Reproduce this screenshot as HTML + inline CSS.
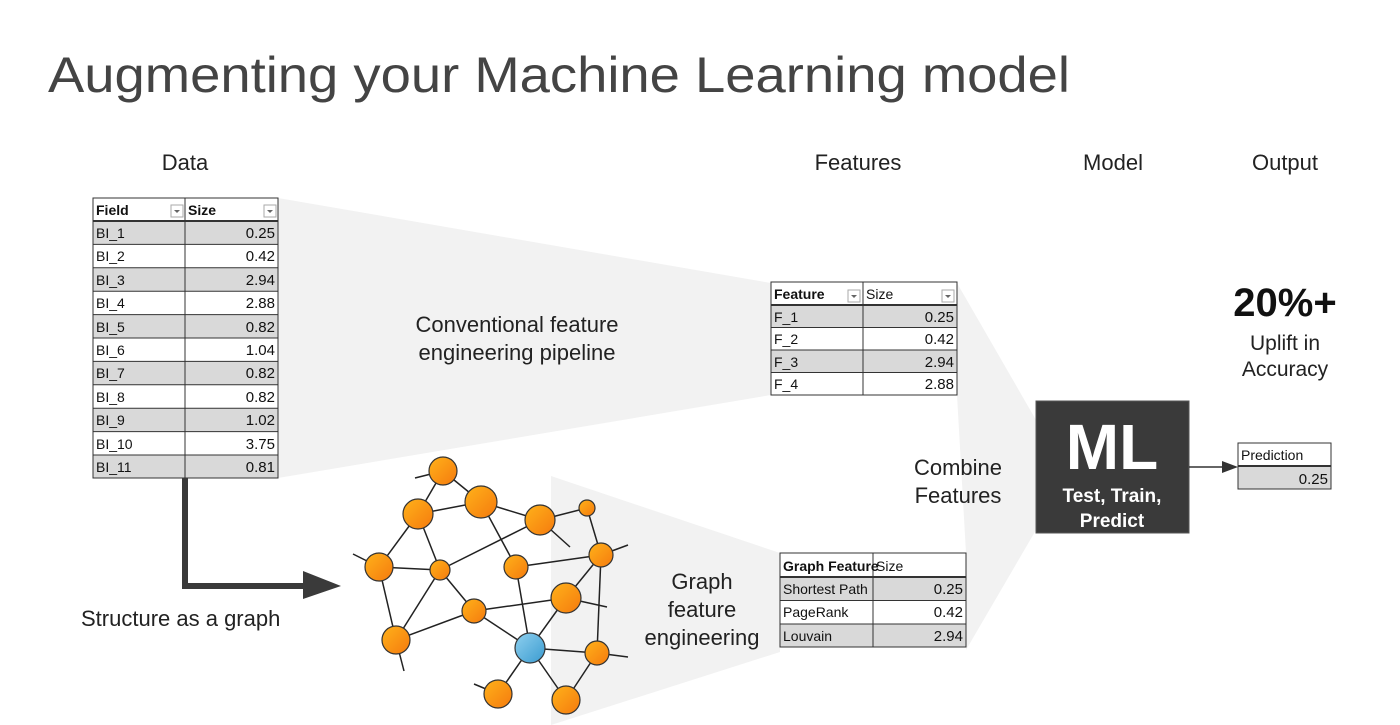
<!DOCTYPE html>
<html><head><meta charset="utf-8"><style>
html,body{margin:0;padding:0;background:#fff;}
svg{display:block;font-family:"Liberation Sans",sans-serif;}
.t{font-family:"Liberation Sans",sans-serif;fill:#222;}
.c{font-size:14px;fill:#111;}
.cb{font-size:14px;fill:#111;font-weight:bold;}
</style></head><body>
<svg width="1400" height="725" viewBox="0 0 1400 725" xmlns="http://www.w3.org/2000/svg">
<rect width="1400" height="725" fill="#fff"/>
<!-- funnels -->
<polygon points="278,198 771,283 771,395 278,478" fill="#f2f2f2"/>
<polygon points="551,476 780,553 780,652 551,725" fill="#f2f2f2"/>
<polygon points="930,283 957,283 1036,420 1036,530 966,650 966,553 957,395" fill="#f2f2f2"/>

<text x="48" y="92" font-size="50" fill="#444" textLength="1022" lengthAdjust="spacingAndGlyphs">Augmenting your Machine Learning model</text>

<g font-size="22" fill="#222" text-anchor="middle">
<text x="185" y="170">Data</text>
<text x="858" y="170">Features</text>
<text x="1113" y="170">Model</text>
<text x="1285" y="170">Output</text>
<text x="517" y="332">Conventional feature</text>
<text x="517" y="360">engineering pipeline</text>
<text x="702" y="589">Graph</text>
<text x="702" y="617">feature</text>
<text x="702" y="645">engineering</text>
<text x="958" y="475">Combine</text>
<text x="958" y="503">Features</text>
<text x="1285" y="350" font-size="21">Uplift in</text>
<text x="1285" y="376" font-size="21">Accuracy</text>
<text x="1285" y="316" font-size="40" font-weight="bold" fill="#111">20%+</text>
</g>
<text x="81" y="626" font-size="22" fill="#222">Structure as a graph</text>

<!-- Data table -->
<g>
<rect x="93" y="198" width="185" height="23" fill="#fff"/>
<g fill="#d9d9d9">
<rect x="93" y="221" width="185" height="23.4"/>
<rect x="93" y="267.8" width="185" height="23.4"/>
<rect x="93" y="314.6" width="185" height="23.4"/>
<rect x="93" y="361.4" width="185" height="23.4"/>
<rect x="93" y="408.2" width="185" height="23.4"/>
<rect x="93" y="455" width="185" height="23"/>
</g>
<g stroke="#333" stroke-width="1">
<rect x="93" y="198" width="185" height="280" fill="none"/>
<line x1="185" y1="198" x2="185" y2="478"/>
<line x1="93" y1="221" x2="278" y2="221" stroke-width="2"/>
<line x1="93" y1="244.4" x2="278" y2="244.4"/><line x1="93" y1="267.8" x2="278" y2="267.8"/>
<line x1="93" y1="291.2" x2="278" y2="291.2"/><line x1="93" y1="314.6" x2="278" y2="314.6"/>
<line x1="93" y1="338" x2="278" y2="338"/><line x1="93" y1="361.4" x2="278" y2="361.4"/>
<line x1="93" y1="384.8" x2="278" y2="384.8"/><line x1="93" y1="408.2" x2="278" y2="408.2"/>
<line x1="93" y1="431.6" x2="278" y2="431.6"/><line x1="93" y1="455" x2="278" y2="455"/>
</g>
<rect x="171" y="205" width="12" height="12" fill="#fff" stroke="#aaa"/><polygon points="174,210 180,210 177,213" fill="#666"/>
<rect x="264" y="205" width="12" height="12" fill="#fff" stroke="#aaa"/><polygon points="267,210 273,210 270,213" fill="#666"/>
<text class="cb" x="96" y="215">Field</text><text class="cb" x="188" y="215" font-weight="normal">Size</text>
<g class="c">
<text x="96" y="238" class="c">BI_1</text><text x="96" y="261" class="c">BI_2</text><text x="96" y="285" class="c">BI_3</text>
<text x="96" y="308" class="c">BI_4</text><text x="96" y="332" class="c">BI_5</text><text x="96" y="355" class="c">BI_6</text>
<text x="96" y="378" class="c">BI_7</text><text x="96" y="402" class="c">BI_8</text><text x="96" y="425" class="c">BI_9</text>
<text x="96" y="449" class="c">BI_10</text><text x="96" y="472" class="c">BI_11</text>
</g>
<g text-anchor="end" font-size="15" fill="#111">
<text x="275" y="238">0.25</text><text x="275" y="261">0.42</text><text x="275" y="285">2.94</text>
<text x="275" y="308">2.88</text><text x="275" y="332">0.82</text><text x="275" y="355">1.04</text>
<text x="275" y="378">0.82</text><text x="275" y="402">0.82</text><text x="275" y="425">1.02</text>
<text x="275" y="449">3.75</text><text x="275" y="472">0.81</text>
</g>
</g>

<!-- Features table -->
<g>
<rect x="771" y="282" width="186" height="23" fill="#fff"/>
<rect x="771" y="305" width="186" height="22.5" fill="#d9d9d9"/>
<rect x="771" y="327.5" width="186" height="22.5" fill="#fff"/>
<rect x="771" y="350" width="186" height="22.5" fill="#d9d9d9"/>
<rect x="771" y="372.5" width="186" height="22.5" fill="#fff"/>
<g stroke="#333" fill="none">
<rect x="771" y="282" width="186" height="113"/>
<line x1="863" y1="282" x2="863" y2="395"/>
<line x1="771" y1="305" x2="957" y2="305" stroke-width="2"/>
<line x1="771" y1="327.5" x2="957" y2="327.5"/><line x1="771" y1="350" x2="957" y2="350"/><line x1="771" y1="372.5" x2="957" y2="372.5"/>
</g>
<rect x="848" y="290" width="12" height="12" fill="#fff" stroke="#aaa"/><polygon points="851,295 857,295 854,298" fill="#666"/>
<rect x="942" y="290" width="12" height="12" fill="#fff" stroke="#aaa"/><polygon points="945,295 951,295 948,298" fill="#666"/>
<text class="cb" x="774" y="299">Feature</text><text class="c" x="866" y="299">Size</text>
<text class="c" x="774" y="322">F_1</text><text class="c" x="774" y="344">F_2</text><text class="c" x="774" y="367">F_3</text><text class="c" x="774" y="389">F_4</text>
<g text-anchor="end" font-size="15" fill="#111">
<text x="954" y="322">0.25</text><text x="954" y="344">0.42</text><text x="954" y="367">2.94</text><text x="954" y="389">2.88</text>
</g>
</g>

<!-- Graph features table -->
<g>
<rect x="780" y="553" width="186" height="24" fill="#fff"/>
<rect x="780" y="577" width="186" height="23.5" fill="#d9d9d9"/>
<rect x="780" y="600.5" width="186" height="23.5" fill="#fff"/>
<rect x="780" y="624" width="186" height="23" fill="#d9d9d9"/>
<g stroke="#333" fill="none">
<rect x="780" y="553" width="186" height="94"/>
<line x1="873" y1="553" x2="873" y2="647"/>
<line x1="780" y1="577" x2="966" y2="577" stroke-width="2"/>
<line x1="780" y1="600.5" x2="966" y2="600.5"/><line x1="780" y1="624" x2="966" y2="624"/>
</g>
<text class="cb" x="783" y="571">Graph Feature</text><text class="c" x="876" y="571">Size</text>
<text class="c" x="783" y="594" font-size="13">Shortest Path</text><text class="c" x="783" y="617" font-size="13">PageRank</text><text class="c" x="783" y="641" font-size="13">Louvain</text>
<g text-anchor="end" font-size="15" fill="#111">
<text x="963" y="594">0.25</text><text x="963" y="617">0.42</text><text x="963" y="641">2.94</text>
</g>
</g>

<!-- ML box -->
<rect x="1036" y="401" width="153" height="132" fill="#3a3a3a" stroke="#555"/>
<text x="1112" y="469" text-anchor="middle" font-size="64" font-weight="bold" fill="#fff">ML</text>
<text x="1112" y="502" text-anchor="middle" font-size="19" font-weight="bold" fill="#fff">Test, Train,</text>
<text x="1112" y="527" text-anchor="middle" font-size="19" font-weight="bold" fill="#fff">Predict</text>

<!-- arrow to prediction -->
<line x1="1189" y1="467" x2="1224" y2="467" stroke="#333" stroke-width="1.5"/>
<polygon points="1222,461 1238,467 1222,473" fill="#333"/>
<rect x="1238" y="443" width="93" height="23" fill="#fff"/>
<rect x="1238" y="466" width="93" height="23" fill="#d9d9d9"/>
<rect x="1238" y="443" width="93" height="46" fill="none" stroke="#333"/>
<line x1="1238" y1="466" x2="1331" y2="466" stroke="#333" stroke-width="2"/>
<text class="c" x="1241" y="460">Prediction</text>
<text x="1328" y="484" text-anchor="end" font-size="15" fill="#111">0.25</text>

<!-- structure arrow -->
<polyline points="185,478 185,586 306,586" fill="none" stroke="#3a3a3a" stroke-width="6"/>
<polygon points="303,571 341,586 303,599" fill="#3a3a3a"/>

<!-- graph -->
<defs>
<linearGradient id="og" x1="0" y1="0" x2="1" y2="1"><stop offset="0" stop-color="#ffb21a"/><stop offset="1" stop-color="#f57a0e"/></linearGradient>
<linearGradient id="bg" x1="0" y1="0" x2="1" y2="1"><stop offset="0" stop-color="#8fd0ef"/><stop offset="1" stop-color="#3a9bd0"/></linearGradient>
</defs>
<g stroke="#222" stroke-width="1.5">
<line x1="443" y1="471" x2="418" y2="514"/><line x1="443" y1="471" x2="481" y2="502"/>
<line x1="418" y1="514" x2="481" y2="502"/><line x1="481" y1="502" x2="540" y2="520"/>
<line x1="481" y1="502" x2="516" y2="567"/><line x1="418" y1="514" x2="440" y2="570"/>
<line x1="418" y1="514" x2="379" y2="567"/><line x1="379" y1="567" x2="440" y2="570"/>
<line x1="440" y1="570" x2="540" y2="520"/><line x1="440" y1="570" x2="474" y2="611"/>
<line x1="440" y1="570" x2="396" y2="640"/><line x1="379" y1="567" x2="396" y2="640"/>
<line x1="396" y1="640" x2="474" y2="611"/><line x1="474" y1="611" x2="566" y2="598"/>
<line x1="474" y1="611" x2="530" y2="648"/><line x1="516" y1="567" x2="601" y2="555"/>
<line x1="516" y1="567" x2="530" y2="648"/><line x1="540" y1="520" x2="587" y2="508"/>
<line x1="587" y1="508" x2="601" y2="555"/><line x1="601" y1="555" x2="566" y2="598"/>
<line x1="601" y1="555" x2="597" y2="653"/><line x1="566" y1="598" x2="530" y2="648"/>
<line x1="530" y1="648" x2="597" y2="653"/><line x1="530" y1="648" x2="498" y2="694"/>
<line x1="530" y1="648" x2="566" y2="700"/><line x1="597" y1="653" x2="566" y2="700"/>
<line x1="566" y1="598" x2="607" y2="607"/>
<line x1="443" y1="471" x2="415" y2="478"/><line x1="379" y1="567" x2="353" y2="554"/>
<line x1="396" y1="640" x2="404" y2="671"/><line x1="540" y1="520" x2="570" y2="547"/>
<line x1="601" y1="555" x2="628" y2="545"/><line x1="597" y1="653" x2="628" y2="657"/>
<line x1="498" y1="694" x2="474" y2="684"/>
</g>
<g stroke="#333" stroke-width="1.2" fill="url(#og)">
<circle cx="443" cy="471" r="14"/><circle cx="418" cy="514" r="15"/><circle cx="481" cy="502" r="16"/>
<circle cx="540" cy="520" r="15"/><circle cx="587" cy="508" r="8"/><circle cx="379" cy="567" r="14"/>
<circle cx="440" cy="570" r="10"/><circle cx="516" cy="567" r="12"/><circle cx="601" cy="555" r="12"/>
<circle cx="566" cy="598" r="15"/><circle cx="474" cy="611" r="12"/><circle cx="396" cy="640" r="14"/>
<circle cx="597" cy="653" r="12"/><circle cx="498" cy="694" r="14"/><circle cx="566" cy="700" r="14"/>
<circle cx="530" cy="648" r="15" fill="url(#bg)"/>
</g>
</svg>
</body></html>
